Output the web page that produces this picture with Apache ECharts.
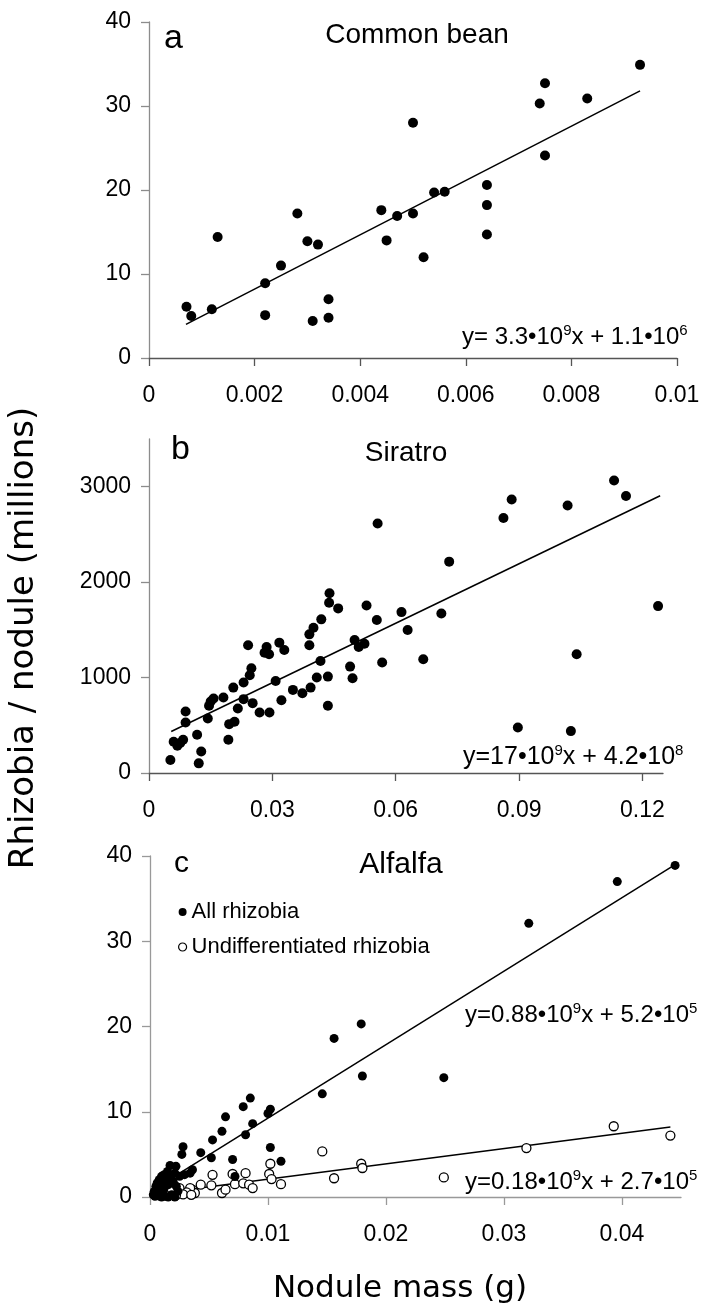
<!DOCTYPE html>
<html><head><meta charset="utf-8">
<script src="https://cdn.jsdelivr.net/npm/echarts@6/dist/echarts.min.js"></script>
<style>html,body{margin:0;padding:0;background:#fff}#c{width:716px;height:1309px}</style>
</head><body><div id="c"></div>
<script>
// ---- Panel a: Common bean ----
const beanMass = [0.00071,0.0008,0.00119,0.0013,0.0022,0.0022,0.0025,0.00281,0.0030,0.0031,0.0032,0.0034,0.0034,0.0044,0.0045,0.0047,0.0050,0.0052,0.0054,0.0056,0.0064,0.0064,0.0064,0.0050,0.0093,0.0075,0.0074,0.0083,0.0075];
const beanRhizobia = [6.1,5.0,5.8,14.4,8.9,5.1,11.0,17.2,13.9,4.4,13.5,7.0,4.8,17.6,14.0,16.9,17.2,12.0,19.7,19.8,20.6,18.2,14.7,28.0,34.9,32.7,30.3,30.9,24.1];
const beanTrendMass = [0.0007, 0.0093];
const beanTrendRhizobia = [4.0, 31.8];
const beanXTicks = [0,0.002,0.004,0.006,0.008,0.01];
const beanYTicks = [0,10,20,30,40];

// ---- Panel b: Siratro ----
const siratroMass = [0.0052,0.0060,0.0069,0.0076,0.0083,0.0089,0.0089,0.0117,0.0121,0.0127,0.0143,0.0146,0.0150,0.0157,0.0181,0.0195,0.0208,0.0193,0.0205,0.0216,0.0230,0.0230,0.0241,0.0245,0.0249,0.0252,0.0269,0.0281,0.0286,0.0292,0.0293,0.0308,0.0317,0.0329,0.0322,0.0350,0.0373,0.0390,0.0393,0.0390,0.0400,0.0408,0.0417,0.0419,0.0435,0.0435,0.0438,0.0439,0.0460,0.0489,0.0495,0.0500,0.0510,0.0524,0.0529,0.0554,0.0556,0.0567,0.0614,0.0629,0.0667,0.0711,0.0730,0.0862,0.0882,0.0897,0.1018,0.1026,0.1040,0.1131,0.1160,0.1238];
const siratroRhizobia = [136,328,286,314,348,645,530,401,101,226,571,704,749,780,791,512,537,348,895,676,948,774,1338,1024,1098,732,634,1261,1321,1244,634,965,1366,1289,763,871,836,1338,895,1453,1523,1000,1174,1610,1010,704,1784,1884,1725,1115,993,1394,1321,1355,1756,1603,2615,1157,1686,1498,1192,1672,2215,2672,2866,477,2804,439,1244,3065,2902,1749];
const siratroTrendMass = [0.0054, 0.1243];
const siratroTrendRhizobia = [435, 2905];
const siratroXTicks = [0,0.03,0.06,0.09,0.12];
const siratroYTicks = [0,1000,2000,3000];

// ---- Panel c: Alfalfa ----
const alfalfaAllMass = [0.0028,0.0027,0.0022,0.0017,0.0036,0.0034,0.0043,0.0052,0.0053,0.0061,0.0064,0.0070,0.0072,0.0079,0.0085,0.0081,0.0087,0.0100,0.0102,0.0102,0.0111,0.0146,0.0156,0.0179,0.0180,0.0249,0.0321,0.0396,0.0445,
  0.00028,0.00036,0.0005,0.00061,0.0007,0.00078,0.00089,0.00098,0.00106,0.00112,0.0012,0.00128,0.0014,0.00148,0.00156,0.00176,0.00184,0.00196,0.0021,0.00223,0.00237,0.00251,0.00293,0.00042,0.00098,0.00154,0.00056,0.00126,0.0021];
const alfalfaAllRhizobia = [5.9,5.0,3.6,3.7,3.2,2.8,5.2,4.6,6.7,7.7,9.4,4.4,2.4,10.6,11.6,7.3,8.6,9.8,10.3,5.8,4.2,12.1,18.6,20.3,14.2,14.0,32.1,37.0,38.9,
  0.27,0.66,1.25,1.64,0.86,2.03,1.45,2.42,1.84,0.66,2.62,1.25,2.03,3.0,1.45,2.42,0.27,1.84,2.8,1.25,0.66,2.42,2.62,0.08,0.0,0.0,0.47,0.08,0.0];
const alfalfaUndiffMass = [0.0146,0.0102,0.0101,0.0103,0.0111,0.0081,0.0070,0.0053,0.0072,0.0079,0.0084,0.0087,0.0061,0.0064,0.0052,0.0043,0.0036,0.0038,0.0156,0.0179,0.0180,0.0034,0.0319,0.0393,0.0441,0.0249,
  0.0031,0.0025,0.0028,0.0022,0.0018,0.0012,0.0008,0.0035];
const alfalfaUndiffRhizobia = [5.35,3.9,2.7,2.1,1.5,2.8,2.7,2.6,1.5,1.6,1.45,1.05,0.47,0.86,1.37,1.45,0.86,0.47,2.2,3.9,3.4,1.05,5.74,8.3,7.2,2.3,
  0.55,1.05,0.3,0.2,0.8,0.4,0.2,0.25];
const alfalfaAllTrendMass = [0.0003, 0.0445];
const alfalfaAllTrendRhizobia = [0.9, 39.0];
const alfalfaUndiffTrendMass = [0.0003, 0.0441];
const alfalfaUndiffTrendRhizobia = [0.35, 8.2];
const alfalfaXTicks = [0,0.01,0.02,0.03,0.04];
const alfalfaYTicks = [0,10,20,30,40];

const SANS = "'Liberation Sans', Arial, sans-serif";
const NARROW = "'Liberation Sans Narrow', 'Liberation Sans', Arial, sans-serif";
const DEJA = "'DejaVu Sans', Verdana, sans-serif";

function zip(a, b) { return a.map((v, i) => [v, b[i]]); }

function xAxis(gi, max, ticks, color, font) {
  return {
    type: 'value', gridIndex: gi, min: 0, max: max,
    axisLine: { show: true, onZero: false, lineStyle: { color: color, width: 1.3 } },
    axisTick: { show: true, length: 8, customValues: ticks, lineStyle: { color: color, width: 1.3 } },
    axisLabel: { customValues: ticks, margin: 26, fontSize: 23, color: '#000', fontFamily: font, formatter: v => String(v) },
    splitLine: { show: false }
  };
}
function yAxis(gi, max, ticks, color, font) {
  return {
    type: 'value', gridIndex: gi, min: 0, max: max,
    axisLine: { show: true, onZero: false, lineStyle: { color: color, width: 1.3 } },
    axisTick: { show: true, length: 8, customValues: ticks, lineStyle: { color: color, width: 1.3 } },
    axisLabel: { customValues: ticks, margin: 18, fontSize: 23, color: '#000', fontFamily: font, formatter: v => String(v) },
    splitLine: { show: false }
  };
}
function trend(name, xi, xs, ys) {
  return { name: name, type: 'line', xAxisIndex: xi, yAxisIndex: xi, data: zip(xs, ys),
    showSymbol: false, symbol: 'none', silent: true, z: 1,
    lineStyle: { color: '#000', width: 1.5 } };
}

const chart = echarts.init(document.getElementById('c'), null, { renderer: 'canvas' });
chart.setOption({
  animation: false,
  backgroundColor: '#fff',
  grid: [
    { left: 149, top: 22, width: 528, height: 336 },
    { left: 149, top: 439, width: 514, height: 334 },
    { left: 150, top: 856, width: 531, height: 341 }
  ],
  xAxis: [
    xAxis(0, 0.01, beanXTicks, '#555', SANS),
    xAxis(1, 0.125, siratroXTicks, '#555', SANS),
    xAxis(2, 0.045, alfalfaXTicks, '#999', NARROW)
  ],
  yAxis: [
    yAxis(0, 40, beanYTicks, '#8c8c8c', SANS),
    yAxis(1, 3500, siratroYTicks, '#8c8c8c', SANS),
    yAxis(2, 40, alfalfaYTicks, '#999', NARROW)
  ],
  legend: {
    orient: 'vertical', left: 173, top: 896, itemGap: 13,
    itemWidth: 8, itemHeight: 8,
    textStyle: { fontSize: 22, fontFamily: SANS, color: '#000', lineHeight: 22 },
    data: [
      { name: 'All rhizobia', icon: 'circle', itemStyle: { color: '#000', opacity: 1 } },
      { name: 'Undifferentiated rhizobia', icon: 'circle', itemStyle: { color: '#fff', borderColor: '#000', borderWidth: 1.2, opacity: 1 } }
    ]
  },
  series: [
    trend('bean trend', 0, beanTrendMass, beanTrendRhizobia),
    { name: 'Common bean', type: 'scatter', xAxisIndex: 0, yAxisIndex: 0, data: zip(beanMass, beanRhizobia),
      symbolSize: 10, itemStyle: { color: '#000', opacity: 1 }, z: 3 },
    trend('siratro trend', 1, siratroTrendMass, siratroTrendRhizobia),
    { name: 'Siratro', type: 'scatter', xAxisIndex: 1, yAxisIndex: 1, data: zip(siratroMass, siratroRhizobia),
      symbolSize: 10, itemStyle: { color: '#000', opacity: 1 }, z: 3 },
    trend('alfalfa all trend', 2, alfalfaAllTrendMass, alfalfaAllTrendRhizobia),
    trend('alfalfa undiff trend', 2, alfalfaUndiffTrendMass, alfalfaUndiffTrendRhizobia),
    { name: 'Undifferentiated rhizobia', type: 'scatter', xAxisIndex: 2, yAxisIndex: 2, data: zip(alfalfaUndiffMass, alfalfaUndiffRhizobia),
      symbolSize: 9, itemStyle: { color: '#fff', borderColor: '#000', borderWidth: 1.3, opacity: 1 }, z: 3 },
    { name: 'All rhizobia', type: 'scatter', xAxisIndex: 2, yAxisIndex: 2, data: zip(alfalfaAllMass, alfalfaAllRhizobia),
      symbolSize: 9, itemStyle: { color: '#000', opacity: 1 }, z: 4 }
  ],
  graphic: [
    { type: 'text', x: 164, y: 39, style: { text: 'a', fontSize: 34, fontFamily: SANS, fill: '#000', align: 'left', verticalAlign: 'middle' } },
    { type: 'text', x: 417, y: 35, style: { text: 'Common bean', fontSize: 28, fontFamily: SANS, fill: '#000', align: 'center', verticalAlign: 'middle' } },
    { type: 'text', x: 462, y: 337, style: {
        text: '{m|y= 3.3•10}{s|9}{m|x + 1.1•10}{s|6}', align: 'left', verticalAlign: 'middle',
        rich: { m: { fontSize: 24, fontFamily: SANS, fill: '#000', lineHeight: 28 }, s: { fontSize: 15, fontFamily: SANS, fill: '#000', verticalAlign: 'top', lineHeight: 15 } } } },
    { type: 'text', x: 171, y: 450, style: { text: 'b', fontSize: 34, fontFamily: SANS, fill: '#000', align: 'left', verticalAlign: 'middle' } },
    { type: 'text', x: 406, y: 453, style: { text: 'Siratro', fontSize: 28, fontFamily: SANS, fill: '#000', align: 'center', verticalAlign: 'middle' } },
    { type: 'text', x: 463, y: 757, style: {
        text: '{m|y=17•10}{s|9}{m|x + 4.2•10}{s|8}', align: 'left', verticalAlign: 'middle',
        rich: { m: { fontSize: 25, fontFamily: SANS, fill: '#000', lineHeight: 28 }, s: { fontSize: 15, fontFamily: SANS, fill: '#000', verticalAlign: 'top', lineHeight: 15 } } } },
    { type: 'text', x: 174, y: 864, style: { text: 'c', fontSize: 30, fontFamily: SANS, fill: '#000', align: 'left', verticalAlign: 'middle' } },
    { type: 'text', x: 401, y: 865, style: { text: 'Alfalfa', fontSize: 30, fontFamily: SANS, fill: '#000', align: 'center', verticalAlign: 'middle' } },
    { type: 'text', x: 465, y: 1015, style: {
        text: '{m|y=0.88•10}{s|9}{m|x + 5.2•10}{s|5}', align: 'left', verticalAlign: 'middle',
        rich: { m: { fontSize: 24, fontFamily: SANS, fill: '#000', lineHeight: 28 }, s: { fontSize: 15, fontFamily: SANS, fill: '#000', verticalAlign: 'top', lineHeight: 15 } } } },
    { type: 'text', x: 465, y: 1182, style: {
        text: '{m|y=0.18•10}{s|9}{m|x + 2.7•10}{s|5}', align: 'left', verticalAlign: 'middle',
        rich: { m: { fontSize: 24, fontFamily: SANS, fill: '#000', lineHeight: 28 }, s: { fontSize: 15, fontFamily: SANS, fill: '#000', verticalAlign: 'top', lineHeight: 15 } } } },
    { type: 'text', x: 24, y: 638, rotation: Math.PI / 2, style: { text: 'Rhizobia / nodule (millions)', fontSize: 34, fontFamily: DEJA, fill: '#000', align: 'center', verticalAlign: 'middle' } },
    { type: 'text', x: 400, y: 1289, style: { text: 'Nodule mass (g)', fontSize: 31, fontFamily: DEJA, fill: '#000', align: 'center', verticalAlign: 'middle' } }
  ]
});
</script>
</body></html>
